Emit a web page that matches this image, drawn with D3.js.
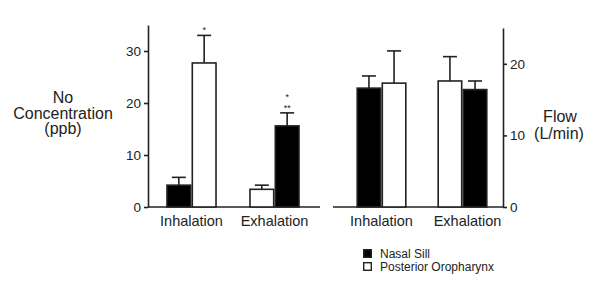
<!DOCTYPE html>
<html>
<head>
<meta charset="utf-8">
<script src="https://cdn.jsdelivr.net/npm/d3@7"></script>
<style>
  body { margin: 0; background: #fff; }
  text { font-family: "Liberation Sans", Arial, sans-serif; fill: #222; }
</style>
</head>
<body>
<div id="chart"></div>
<script>
// categories and values
const groups = ["Inhalation", "Exhalation"];
const seriesNames = ["Nasal Sill", "Posterior Oropharynx"];
// bar order inside each group (left to right)
const barOrder = [["nasal", "oro"], ["oro", "nasal"]];

const noNasal = [4.2, 15.6];
const noNasalErr = [1.5, 2.5];
const noOro = [27.7, 3.4];
const noOroErr = [5.3, 0.8];

const flowNasal = [16.6, 16.4];
const flowNasalErr = [1.7, 1.2];
const flowOro = [17.3, 17.6];
const flowOroErr = [4.5, 3.4];

const noTicks = [0, 10, 20, 30];
const flowTicks = [0, 10, 20];

const width = 600, height = 282;
const ink = "#222";

const svg = d3.select("#chart").append("svg")
    .attr("width", width)
    .attr("height", height);

function makeRows(nasal, nasalErr, oro, oroErr) {
    return groups.map((g, i) => ({
        group: g,
        bars: barOrder[i].map((k, j) => ({
            key: k,
            pos: j,
            value: k === "nasal" ? nasal[i] : oro[i],
            err: k === "nasal" ? nasalErr[i] : oroErr[i]
        }))
    }));
}

function drawBars(rows, x0, y, stars) {
    const x1 = d3.scaleBand().domain([0, 1]).range([0, x0.bandwidth()]);
    const g = svg.append("g");
    rows.forEach(r => {
        const gg = g.append("g").attr("transform", `translate(${x0(r.group)},0)`);
        // error bars (upward only)
        gg.selectAll("line.err").data(r.bars).join("line")
            .attr("x1", d => x1(d.pos) + x1.bandwidth() / 2)
            .attr("x2", d => x1(d.pos) + x1.bandwidth() / 2)
            .attr("y1", d => y(d.value))
            .attr("y2", d => y(d.value + d.err))
            .attr("stroke", ink).attr("stroke-width", 1.6);
        gg.selectAll("line.cap").data(r.bars).join("line")
            .attr("x1", d => x1(d.pos) + x1.bandwidth() / 2 - 7)
            .attr("x2", d => x1(d.pos) + x1.bandwidth() / 2 + 7)
            .attr("y1", d => y(d.value + d.err))
            .attr("y2", d => y(d.value + d.err))
            .attr("stroke", ink).attr("stroke-width", 1.6);
        gg.selectAll("rect").data(r.bars).join("rect")
            .attr("x", d => x1(d.pos) + 0.8)
            .attr("width", x1.bandwidth() - 1.6)
            .attr("y", d => y(d.value))
            .attr("height", d => y(0) - y(d.value))
            .attr("fill", d => d.key === "nasal" ? "#000" : "#fff")
            .attr("stroke", ink).attr("stroke-width", 1.6);
        if (stars) {
            stars.filter(s => s.group === r.group).forEach(s => {
                const b = r.bars.find(d => d.key === s.key);
                const cx = x1(b.pos) + x1.bandwidth() / 2;
                s.lines.forEach((line, k) => {
                    gg.append("text")
                        .attr("x", cx)
                        .attr("y", y(b.value + b.err) - 2 - (s.lines.length - 1 - k) * 10.5)
                        .attr("text-anchor", "middle")
                        .style("font-size", "9px")
                        .text(line);
                });
            });
        }
    });
}

function styleAxis(sel) {
    sel.select(".domain").attr("stroke", ink).attr("stroke-width", 1.6);
    sel.selectAll(".tick line").attr("stroke", ink).attr("stroke-width", 1.6);
    sel.selectAll(".tick text")
        .style("font-family", "Liberation Sans, Arial, sans-serif")
        .style("font-size", "13.5px").attr("fill", ink);
}

// ---- left panel: NO concentration ----
const yNo = d3.scaleLinear().domain([0, 35]).range([207, 25]);
const x0No = d3.scaleBand().domain(groups).range([150, 316])
    .paddingInner(0.39).paddingOuter(0.195);

svg.append("g")
    .attr("transform", "translate(148,0)")
    .call(d3.axisLeft(yNo).tickValues(noTicks).tickSize(4).tickSizeOuter(0).tickPadding(3))
    .call(styleAxis);

svg.append("line")
    .attr("x1", 148).attr("x2", 320).attr("y1", yNo(0)).attr("y2", yNo(0))
    .attr("stroke", ink).attr("stroke-width", 1.6);

drawBars(makeRows(noNasal, noNasalErr, noOro, noOroErr), x0No, yNo, [
    { group: "Inhalation", key: "oro", lines: ["*"] },
    { group: "Exhalation", key: "nasal", lines: ["*", "**"] }
]);

svg.append("g").selectAll("text").data(groups).join("text")
    .attr("x", d => x0No(d) + x0No.bandwidth() / 2)
    .attr("y", 226)
    .attr("text-anchor", "middle")
    .style("font-size", "14.5px")
    .text(d => d);

const noTitle = svg.append("text").attr("text-anchor", "middle").style("font-size", "16px");
["No", "Concentration", "(ppb)"].forEach((t, i) => {
    noTitle.append("tspan").attr("x", 63).attr("y", 103 + i * 15.5).text(t);
});

// ---- right panel: flow ----
const yFlow = d3.scaleLinear().domain([0, 25]).range([207, 28]);
const x0Flow = d3.scaleBand().domain(groups).range([341, 503])
    .paddingInner(0.38).paddingOuter(0.19);

svg.append("g")
    .attr("transform", "translate(503,0)")
    .call(d3.axisRight(yFlow).tickValues(flowTicks).tickSize(4).tickSizeOuter(0).tickPadding(3))
    .call(styleAxis);

svg.append("line")
    .attr("x1", 333).attr("x2", 503).attr("y1", yFlow(0)).attr("y2", yFlow(0))
    .attr("stroke", ink).attr("stroke-width", 1.6);

drawBars(makeRows(flowNasal, flowNasalErr, flowOro, flowOroErr), x0Flow, yFlow, null);

svg.append("g").selectAll("text").data(groups).join("text")
    .attr("x", (d, i) => x0Flow(d) + x0Flow.bandwidth() / 2 + (i === 1 ? 5 : 0))
    .attr("y", 226)
    .attr("text-anchor", "middle")
    .style("font-size", "14.5px")
    .text(d => d);

const flowTitle = svg.append("text").attr("text-anchor", "middle").style("font-size", "16px");
flowTitle.append("tspan").attr("x", 560).attr("y", 122).text("Flow");
flowTitle.append("tspan").attr("x", 559).attr("y", 139).text("(L/min)");

// ---- legend ----
const legend = svg.append("g").attr("transform", "translate(363,249)");
seriesNames.forEach((name, i) => {
    legend.append("rect")
        .attr("x", 0.7).attr("y", i * 13 + 0.7)
        .attr("width", 7.6).attr("height", 7.6)
        .attr("fill", i === 0 ? "#000" : "#fff")
        .attr("stroke", ink).attr("stroke-width", 1.4);
    legend.append("text")
        .attr("x", 17).attr("y", i * 13 + 8.5)
        .style("font-size", "12px")
        .text(name);
});
</script>
</body>
</html>
